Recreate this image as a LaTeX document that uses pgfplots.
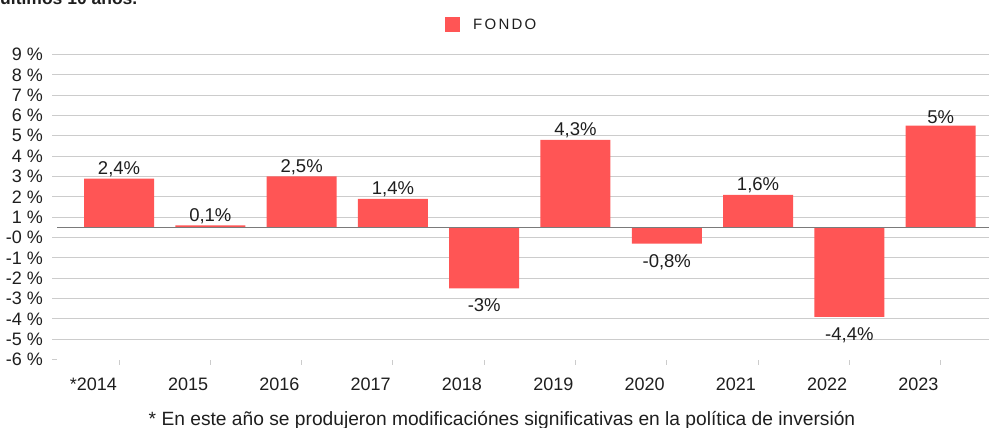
\documentclass[border=0pt]{standalone}
\usepackage{pgfplots}
\pgfplotsset{compat=1.18}
\usepackage{fontspec}
\setmainfont{Liberation Sans}
\definecolor{barred}{HTML}{FF5555}
\definecolor{gridgray}{HTML}{CCCCCC}
\definecolor{basegray}{HTML}{7A7A7A}
\definecolor{txt}{HTML}{1E1E1E}
\begin{document}
\begin{tikzpicture}
\useasboundingbox (-57bp,-68.5bp) rectangle (935bp,359.5bp);
\node[anchor=base west, inner sep=0pt, font=\bfseries\fontsize{17.5bp}{20bp}\selectfont, text=txt] at (-57bp,354.5bp) {últimos 10 años.};
\begin{axis}[
  at={(0,0)}, anchor=south west,
  scale only axis,
  width=932bp, height=305bp,
  xmin=-0.68, xmax=9.53,
  ymin=-6.5, ymax=8.5,
  ybar, bar width=70bp, bar shift=0pt,
  axis line style={draw=none},
  xtick={0,1,2,3,4,5,6,7,8,9},
  xticklabels={*2014,2015,2016,2017,2018,2019,2020,2021,2022,2023},
  ytick={-5.5,-4.5,-3.5,-2.5,-1.5,-0.5,0.5,1.5,2.5,3.5,4.5,5.5,6.5,7.5,8.5},
  yticklabels={-5 \%,-4 \%,-3 \%,-2 \%,-1 \%,-0 \%,1 \%,2 \%,3 \%,4 \%,5 \%,6 \%,7 \%,8 \%,9 \%},
  extra y ticks={-6.5}, extra y tick labels={-6 \%},
  extra y tick style={grid=none},
  ymajorgrids, grid style={gridgray, line width=1.3bp},
  tick align=outside, xtick pos=bottom, ytick pos=left,
  major tick length=5bp,
  tick style={gridgray, line width=1bp},
  xticklabel style={anchor=base east, inner sep=0pt, xshift=-2bp, yshift=-25.8bp, font=\fontsize{18bp}{20bp}\selectfont, text=txt},
  yticklabel style={anchor=east, inner sep=0pt, xshift=-9bp, font=\fontsize{18bp}{20bp}\selectfont, text=txt},
  legend style={draw=none, fill=none, at={(0.4163,1.0967)}, anchor=west, inner sep=0pt, font=\fontsize{15bp}{17bp}\selectfont\addfontfeature{LetterSpace=15}, text=txt},
  legend image code/.code={\fill[barred] (0bp,-7.5bp) rectangle (15bp,7.5bp); \path (26bp,0bp);},
  nodes near coords={\pgfmathprintnumber[use comma, assume math mode=true]{\pgfplotspointmeta}\%},
  every node near coord/.append style={font=\fontsize{18.5bp}{20bp}\selectfont, text=txt},
]
\addplot[fill=barred, draw=none, every node near coord/.append style={inner sep=1.5bp}]
  coordinates {(0,2.4) (1,0.1) (2,2.5) (3,1.4) (5,4.3) (7,1.6) (9,5)};
\addlegendentry{FONDO}
\addplot[fill=barred, draw=none, forget plot, every node near coord/.append style={anchor=north, inner sep=0pt, yshift=-10.5bp}]
  coordinates {(4,-3) (6,-0.8) (8,-4.4)};
\draw[basegray, line width=1.5bp] (axis cs:-0.68,0) -- (axis cs:9.53,0);
\end{axis}
\node[anchor=base, inner sep=0pt, font=\fontsize{19.2bp}{21bp}\selectfont, text=txt] at (445bp,-65.5bp) {* En este año se produjeron modificaciónes significativas en la política de inversión};
\end{tikzpicture}
\end{document}
